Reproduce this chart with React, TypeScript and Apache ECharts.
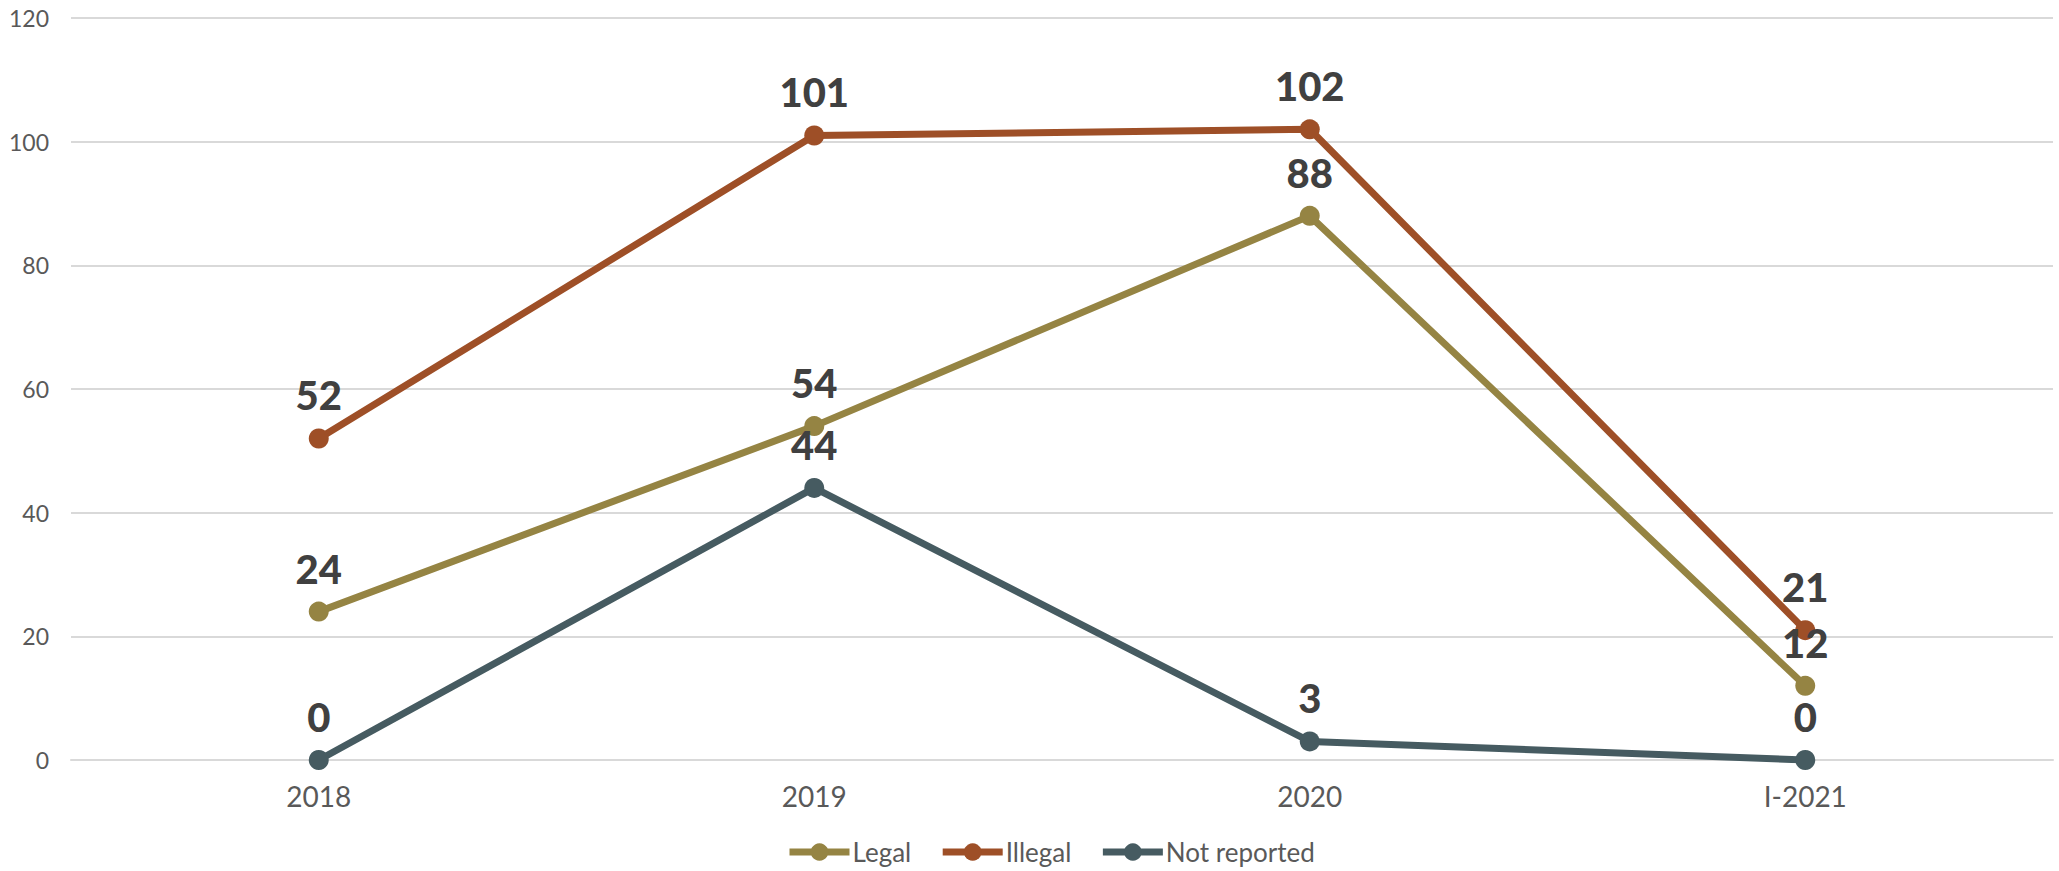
import React, { useEffect, useRef } from "react";
import * as echarts from "echarts";

const categories = ["2018", "2019", "2020", "I-2021"];
const legalValues = [24, 54, 88, 12];
const illegalValues = [52, 101, 102, 21];
const notReportedValues = [0, 44, 3, 0];
const yTicks = { min: 0, max: 120, interval: 20 };

const FONT = "Lato, 'Open Sans', sans-serif";

function makeSeries(name: string, data: number[], color: string) {
  return {
    name,
    type: "line",
    data,
    symbol: "circle",
    symbolSize: 20,
    lineStyle: { color, width: 7 },
    itemStyle: { color },
    label: {
      show: true,
      position: "top",
      distance: 13,
      color: "#404040",
      fontSize: 40,
      fontWeight: 900,
      fontFamily: FONT,
    },
  };
}

export default function App() {
  const ref = useRef<HTMLDivElement>(null);
  useEffect(() => {
    if (!ref.current) return;
    const chart = echarts.init(ref.current, undefined, { renderer: "svg" });
    chart.setOption({
      animation: false,
      backgroundColor: "#ffffff",
      grid: { left: 71, right: 6, top: 18, bottom: 111 },
      legend: {
        left: 781,
        top: 834,
        itemWidth: 60,
        itemHeight: 22,
        itemGap: 28,
        lineStyle: { width: 7 },
        textStyle: { fontSize: 26, color: "#595959", fontFamily: FONT, padding: [0, 0, 0, -2] },
        data: ["Legal", "Illegal", "Not reported"],
      },
      xAxis: {
        type: "category",
        data: categories,
        boundaryGap: true,
        axisLine: { show: true, lineStyle: { color: "#d9d9d9", width: 2 } },
        axisTick: { show: false },
        axisLabel: { fontSize: 28, color: "#595959", fontFamily: FONT, margin: 22 },
      },
      yAxis: {
        type: "value",
        min: yTicks.min,
        max: yTicks.max,
        interval: yTicks.interval,
        axisLine: { show: false },
        axisTick: { show: false },
        axisLabel: { fontSize: 23, color: "#595959", fontFamily: FONT, margin: 22 },
        splitLine: { lineStyle: { color: "#d9d9d9", width: 2 } },
      },
      series: [
        makeSeries("Legal", legalValues, "#958443"),
        makeSeries("Illegal", illegalValues, "#9e4f27"),
        makeSeries("Not reported", notReportedValues, "#465b61"),
      ],
    });
    return () => chart.dispose();
  }, []);
  return (
    <div
      ref={ref}
      style={{ position: "fixed", left: 0, top: 0, width: 2059, height: 871 }}
    />
  );
}
